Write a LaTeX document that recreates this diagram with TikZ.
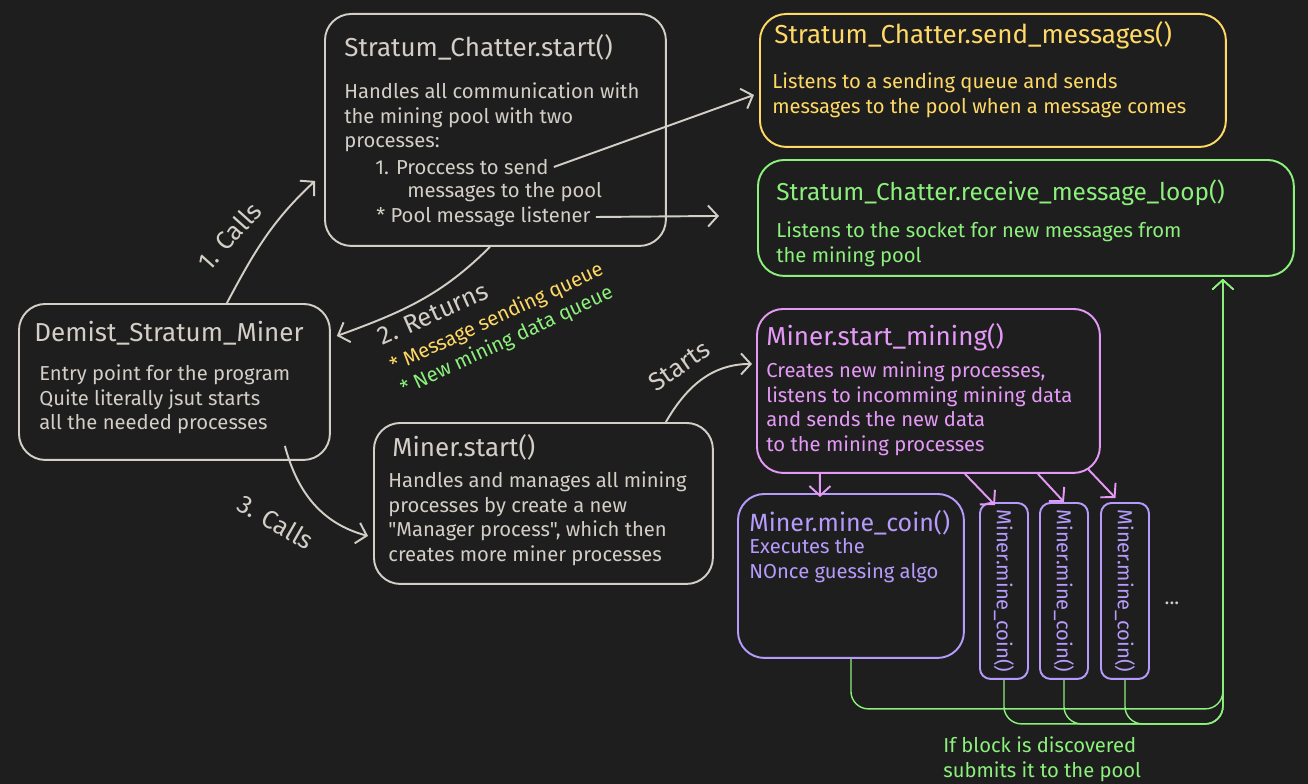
\documentclass[tikz,border=0pt]{standalone}
\usepackage{fontspec}
\setmainfont{Fira Sans}[Ligatures=TeXOff]
\usetikzlibrary{arrows.meta}
\definecolor{bg}{HTML}{1E1E1E}
\definecolor{ink}{HTML}{D3CEC6}
\definecolor{gelb}{HTML}{FFD966}
\definecolor{gruen}{HTML}{8CF07C}
\definecolor{rosa}{HTML}{E599F7}
\definecolor{lila}{HTML}{B69BFC}
\newcommand{\titlefont}{\fontsize{14.8}{17}\selectfont}
\newcommand{\bodyfont}{\fontsize{11.5}{14.17}\selectfont}
\newcommand{\labelfont}{\fontsize{14.5}{16}\selectfont}
\newcommand{\notefont}{\fontsize{11.5}{13}\selectfont}
\begin{document}
\begin{tikzpicture}[x=0.02cm, y=-0.02cm,
    >={Straight Barb[length=5.5pt,width=12pt]},
    box/.style={rectangle, rounded corners=15pt, draw=#1, line width=1.1pt,
                anchor=north west, inner sep=0pt},
    slim/.style={rectangle, rounded corners=6pt, draw=lila, line width=1.1pt,
                 anchor=north west, inner sep=0pt, minimum width=0.96cm, minimum height=3.52cm},
    title/.style={anchor=west, inner sep=0pt, text=#1, font=\titlefont},
    body/.style={anchor=north west, inner sep=0pt, text=#1, font=\bodyfont, align=left},
    line/.style={anchor=west, inner sep=0pt, text=#1, font=\bodyfont},
    con/.style={->, line width=1.1pt, draw=ink},
    pcon/.style={->, line width=1.1pt, draw=rosa},
    bus/.style={->, line width=0.8pt, draw=gruen, rounded corners=10pt}]

    \fill [bg] (0,0) rectangle (1308,784);
    \useasboundingbox (0,0) rectangle (1308,784);

    % Kaesten
    \node (start)  [box=ink,   minimum width=6.82cm,  minimum height=4.64cm] at (324,13)  {};
    \node (send)   [box=gelb,  minimum width=9.32cm,  minimum height=2.66cm] at (759,13)  {};
    \node (recv)   [box=gruen, minimum width=10.72cm, minimum height=2.32cm] at (757,159) {};
    \node (demist) [box=ink,   minimum width=6.22cm,  minimum height=3.12cm] at (18,303)  {};
    \node (mstart) [box=ink,   minimum width=6.78cm,  minimum height=3.22cm] at (373,422) {};
    \node (mining) [box=rosa,  minimum width=6.86cm,  minimum height=3.28cm] at (756,308) {};
    \node (coin)   [box=lila,  minimum width=4.52cm,  minimum height=3.28cm] at (737,493) {};
    \node (c1) [slim] at (979,502)  {};
    \node (c2) [slim] at (1039,502) {};
    \node (c3) [slim] at (1100,502) {};

    % Texte
    \node (tstart) [title=ink] at (344,47) {Stratum\_Chatter.start()};
    \node (bstart) [body=ink] at (344,82) {Handles all communication with\\ the mining pool with two\\ processes:};
    \node (p1)  [line=ink] at (375,167) {1. Proccess to send};
    \node (p1b) [line=ink] at (407,192) {messages to the pool};
    \node (p2)  [line=ink] at (376,217) {* Pool message listener};

    \node (tsend) [title=gelb] at (774,35) {Stratum\_Chatter.send\_messages()};
    \node (bsend) [body=gelb] at (772,72) {Listens to a sending queue and sends\\ messages to the pool when a message comes};

    \node (trecv) [title=gruen, font=\fontsize{13.9}{16}\selectfont] at (776,193) {Stratum\_Chatter.receive\_message\_loop()};
    \node (brecv) [body=gruen] at (776,221) {Listens to the socket for new messages from\\ the mining pool};

    \node (tdemist) [title=ink] at (34,333) {Demist\_Stratum\_Miner};
    \node (bdemist) [body=ink] at (39,364) {Entry point for the program\\ Quite literally jsut starts\\ all the needed processes};

    \node (tmstart) [title=ink] at (392,447) {Miner.start()};
    \node (bmstart) [body=ink] at (388,471) {Handles and manages all mining\\ processes by create a new\\ "Manager process", which then\\ creates more miner processes};

    \node (tmining) [title=rosa] at (766,337) {Miner.start\_mining()};
    \node (bmining) [body=rosa] at (766,361) {Creates new mining processes,\\ listens to incomming mining data\\ and sends the new data\\ to the mining processes};

    \node (tcoin) [title=lila, font=\fontsize{14.2}{16}\selectfont] at (749,523) {Miner.mine\_coin()};
    \node (bcoin) [body=lila] at (749,538) {Executes the\\ NOnce guessing algo};

    \foreach \c in {c1,c2,c3}
        \node [rotate=-90, text=lila, font=\bodyfont, inner sep=0pt] at (\c.center) {Miner.mine\_coin()};
    \node (dots) [text=ink, font=\bodyfont] at (1172,603) {...};

    \node (note) [body=gruen] at (943,736) {If block is discovered\\ submits it to the pool};

    % Aufrufe
    \draw [con] ([xshift=1.05cm]demist.north) to[out=62, in=-137] ([xshift=-0.18cm, yshift=-1.02cm]start.west);
    \node (l1) [text=ink, font=\labelfont, rotate=48] at (229,236) {1. Calls};
    \draw [con] ([xshift=0.1cm]p1.east) -- ([xshift=-0.1cm, yshift=-0.29cm]send.west);
    \draw [con] ([xshift=0.1cm]p2.east) -- ([xshift=-0.76cm, yshift=0.04cm]recv.west);
    \draw [con] ([xshift=-0.11cm]start.south) to[out=-135, in=20] ([xshift=0.12cm, yshift=0.92cm]demist.east);
    \node (l2) [text=ink, font=\labelfont, rotate=24] at (433,314) {2. Returns};
    \node (q1) [text=gelb, font=\notefont, rotate=25] at (497,318) {* Message sending queue};
    \node (q2) [text=gruen, font=\notefont, rotate=25] at (507,341) {* New mining data queue};
    \draw [con] ([xshift=-0.92cm, yshift=0.3cm]demist.south east) to[out=-75, in=165] ([xshift=-0.1cm, yshift=-0.65cm]mstart.west);
    \node (l3) [text=ink, font=\labelfont, rotate=-30] at (276,522) {3. Calls};
    \draw [con] ([xshift=2.45cm]mstart.north) to[out=60, in=180] ([xshift=-0.08cm, yshift=0.54cm]mining.west);
    \node (l4) [text=ink, font=\labelfont, rotate=35] at (679,366) {Starts};

    % Prozesse
    \draw [pcon] ([xshift=-2.17cm]mining.south) -- ([xshift=-0.62cm, yshift=-0.08cm]coin.north);
    \draw [pcon] ([xshift=0.73cm]mining.south) -- ([xshift=-0.18cm, yshift=-0.06cm]c1.north);
    \draw [pcon] ([xshift=2.19cm]mining.south) -- (c2.north);
    \draw [pcon] ([xshift=-0.26cm, yshift=0.1cm]mining.south east) -- ([xshift=-0.19cm, yshift=0.08cm]c3.north);

    % Rueckmeldung
    \coordinate (tip) at ([xshift=3.94cm, yshift=-0.04cm]recv.south);
    \draw [bus] (coin.south) -- ++(0,50) -| (tip);
    \foreach \c in {c1,c2,c3}
        \draw [bus] (\c.south) -- ++(0,44) -| (tip);
\end{tikzpicture}
\end{document}
